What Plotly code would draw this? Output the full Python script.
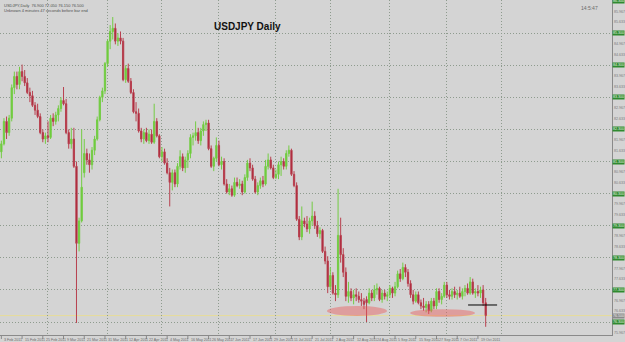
import plotly.graph_objects as go
import pandas as pd

# ---------------- data (USDJPY daily) ----------------
dates = pd.bdate_range("2011-02-01", "2011-10-24")

opens = [82.05,81.85,81.60,81.85,82.55,82.20,82.65,83.60,83.95,83.70,
         84.10,83.95,83.75,83.45,83.35,83.05,82.90,82.70,82.20,82.00,
         82.10,82.05,82.65,82.55,82.75,82.95,83.20,83.10,82.20,81.85,
         82.00,81.15,78.75,79.45,80.95,81.55,81.35,81.20,81.65,82.00,
         82.60,83.30,83.50,84.35,85.05,85.35,85.45,85.05,85.15,85.05,
         83.85,84.20,83.80,83.45,82.85,82.80,82.25,82.00,82.20,81.95,
         82.15,81.90,82.55,82.10,81.45,81.60,81.25,80.95,80.65,80.95,
         80.60,81.15,81.45,81.10,81.35,81.55,82.05,82.10,82.20,81.95,
         82.25,82.45,82.50,81.70,81.15,81.40,81.80,81.20,81.30,80.60,
         80.35,80.45,80.25,80.65,80.55,80.60,80.35,80.80,81.25,81.10,
         80.75,80.35,80.55,80.70,80.60,81.15,81.35,81.10,80.80,80.90,
         81.20,81.30,81.15,81.55,81.65,80.90,80.55,79.50,78.95,79.45,
         79.35,79.20,79.45,79.60,79.30,79.05,79.15,78.50,78.20,77.40,
         77.75,77.20,77.15,79.00,78.40,77.85,77.10,77.25,77.05,77.15,
         77.10,77.00,76.95,77.00,76.90,77.20,77.05,77.30,77.35,77.00,
         77.20,77.10,77.15,77.35,77.20,77.40,77.80,77.65,78.00,77.85,
         77.50,77.15,76.95,77.15,76.90,76.80,76.75,76.85,76.65,76.95,
         76.80,77.25,77.00,77.10,77.45,77.15,77.10,77.25,77.15,77.20,
         77.10,77.25,77.35,77.20,77.55,77.20,77.25,77.20,77.30,76.90]
highs = [82.25,82.05,81.95,82.65,82.70,82.75,83.70,84.10,84.10,84.25,
         84.32,84.15,83.90,83.60,83.50,83.15,83.10,82.80,82.30,82.20,
         82.55,82.75,82.80,82.85,83.05,83.30,83.62,83.25,82.30,82.35,
         82.35,81.30,79.55,82.30,82.00,81.70,81.55,81.75,82.10,82.70,
         83.35,83.60,84.40,85.10,85.55,85.80,85.60,85.30,85.35,85.15,
         84.30,84.35,83.90,83.55,83.15,82.95,82.35,82.30,82.35,82.30,
         82.30,83.10,82.65,82.15,81.75,81.70,81.40,81.10,81.05,81.05,
         81.25,81.65,81.55,81.45,81.65,82.15,82.20,82.55,82.35,82.35,
         82.55,82.60,82.60,81.80,81.45,82.05,81.95,81.45,81.40,80.75,
         80.60,80.55,80.80,80.80,80.75,80.70,80.90,81.35,81.40,81.20,
         80.85,80.65,80.80,80.85,81.35,81.55,81.45,81.20,81.05,81.30,
         81.45,81.40,81.65,81.80,81.70,81.00,80.65,79.60,79.90,79.55,
         79.60,79.55,80.05,79.75,79.45,79.25,79.20,78.65,78.35,78.00,
         77.85,77.45,80.45,79.55,78.60,78.00,77.55,77.35,77.30,77.35,
         77.25,77.20,77.05,77.10,77.35,77.30,77.45,77.50,77.40,77.30,
         77.30,77.25,77.45,77.40,77.55,77.90,77.95,78.15,78.10,77.95,
         77.60,77.30,77.25,77.25,77.00,77.05,76.95,76.95,77.05,77.05,
         77.35,77.35,77.20,77.55,77.55,77.30,77.35,77.40,77.30,77.40,
         77.35,77.45,77.50,77.70,77.65,77.35,77.45,77.40,77.45,77.05]
lows =  [81.75,81.55,81.40,81.80,82.00,82.10,82.55,83.40,83.55,83.55,
         83.80,83.65,83.40,83.15,83.00,82.75,82.65,82.15,81.90,81.85,
         81.90,82.00,82.40,82.45,82.55,82.85,83.05,82.15,81.70,81.70,
         81.10,76.27,78.50,79.40,80.80,81.20,80.95,81.05,81.50,81.95,
         82.55,83.15,83.40,84.25,84.80,85.10,84.95,84.90,84.95,83.80,
         83.75,83.75,83.40,82.80,82.55,82.20,81.90,81.85,81.90,81.85,
         81.85,81.85,82.05,81.40,81.30,81.20,80.90,79.90,80.40,80.50,
         80.50,81.05,81.00,80.95,81.10,81.40,81.80,81.95,81.85,81.80,
         82.10,82.25,81.65,81.10,81.00,81.30,81.15,81.05,80.55,80.30,
         80.25,80.20,80.20,80.50,80.45,80.25,80.30,80.70,81.00,80.70,
         80.30,80.25,80.45,80.50,80.55,81.05,81.05,80.75,80.75,80.75,
         80.85,81.05,81.05,81.45,80.85,80.50,79.45,78.85,78.85,79.25,
         79.10,79.05,79.30,79.20,78.95,78.90,78.45,78.10,77.20,77.30,
         77.15,76.95,77.05,78.15,77.70,76.95,76.90,76.95,76.85,76.95,
         76.90,76.80,76.70,76.30,76.85,76.95,76.95,77.15,76.95,76.90,
         77.00,76.95,77.05,77.05,77.10,77.35,77.55,77.60,77.70,77.40,
         77.05,76.85,76.90,76.85,76.70,76.65,76.60,76.55,76.60,76.70,
         76.70,76.90,76.85,77.05,77.05,77.00,77.00,77.05,77.00,77.05,
         77.00,77.10,77.15,77.15,77.15,77.05,77.10,77.05,76.80,76.15]
closes = [81.85,81.60,81.85,82.55,82.20,82.65,83.60,83.95,83.70,84.10,
          83.95,83.75,83.45,83.35,83.05,82.90,82.70,82.20,82.00,82.10,
          82.05,82.65,82.55,82.75,82.95,83.20,83.10,82.20,81.85,82.00,
          81.15,78.75,79.45,80.50,81.55,81.35,81.20,81.65,82.00,82.60,
          83.30,83.50,84.35,85.05,85.35,85.45,85.05,85.15,85.05,83.85,
          84.20,83.80,83.45,82.85,82.80,82.25,82.00,82.20,81.95,82.15,
          81.90,82.55,82.10,81.45,81.60,81.25,80.95,80.65,80.95,80.60,
          81.15,81.45,81.10,81.35,81.55,82.05,82.10,82.20,81.95,82.25,
          82.45,82.50,81.70,81.15,81.40,81.80,81.20,81.30,80.60,80.35,
          80.45,80.25,80.65,80.55,80.60,80.35,80.80,81.25,81.10,80.75,
          80.35,80.55,80.70,80.60,81.15,81.35,81.10,80.80,80.90,81.20,
          81.30,81.15,81.55,81.65,80.90,80.55,79.50,78.95,79.45,79.35,
          79.20,79.45,79.60,79.30,79.05,79.15,78.50,78.20,77.40,77.75,
          77.20,77.15,79.00,78.40,77.85,77.10,77.25,77.05,77.15,77.10,
          77.00,76.95,76.85,76.90,77.20,77.05,77.30,77.35,77.00,77.20,
          77.10,77.15,77.35,77.20,77.40,77.80,77.65,78.00,77.85,77.50,
          77.15,76.95,77.15,76.90,76.80,76.75,76.85,76.65,76.95,76.80,
          77.25,77.00,77.10,77.45,77.15,77.10,77.25,77.15,77.20,77.10,
          77.25,77.35,77.20,77.55,77.20,77.25,77.20,77.30,76.90,76.50]

# price-axis grid levels and minor labels
grid_levels = [76.30 + k for k in range(11)]
minor_levels = [76.30 + k / 3 for k in range(-1, 31) if k % 3 != 0]
bid_price = 76.50
support_level = 76.83
zone1 = (127.7, 150.9, 76.49, 76.80)
zone2 = (159.8, 184.9, 76.46, 76.70)

# ---------------- figure ----------------
idx = list(range(len(dates)))
BG = "#d4d4d4"
GRID = "#8e9b8e"
DOT = "1px,2px"

fig = go.Figure()
fig.add_trace(go.Candlestick(
    x=idx, open=opens, high=highs, low=lows, close=closes,
    increasing=dict(line=dict(color="#74cc44", width=1), fillcolor="#66cc33"),
    decreasing=dict(line=dict(color="#b8404f", width=1), fillcolor="#a3122c"),
    whiskerwidth=0, showlegend=False, hoverinfo="skip"))

# month separators (first trading day of each month), through November
ext = pd.bdate_range("2011-02-01", "2011-11-30")
month_idx = [i for i in range(1, len(ext)) if ext[i].month != ext[i - 1].month]

x0 = 1.47
x1 = x0 + 612 / 2.59
y0 = 76.30 - 13 / 32.1
y1 = 76.30 + 322 / 32.1

fig.update_layout(
    width=625, height=342,
    margin=dict(l=0, r=13, t=0, b=7),
    paper_bgcolor=BG, plot_bgcolor=BG,
    showlegend=False,
    xaxis=dict(range=[x0, x1], rangeslider=dict(visible=False),
               tickvals=month_idx, showticklabels=False, ticks="",
               showgrid=True, gridcolor=GRID, griddash=DOT, gridwidth=1,
               zeroline=False, showline=True, linecolor="#8a8a8a", linewidth=1),
    yaxis=dict(range=[y0, y1], side="right", tickvals=grid_levels,
               showticklabels=False, ticks="",
               showgrid=True, gridcolor=GRID, griddash=DOT, gridwidth=1,
               zeroline=False, showline=True, linecolor="#8a8a8a", linewidth=1),
)

# bid line (yellow)
fig.add_shape(type="line", xref="paper", x0=0, x1=1, yref="y", y0=bid_price, y1=bid_price,
              line=dict(color="#e6dc9a", width=1), layer="below")

# highlight zones
for (a, b, lo, hi) in (zone1, zone2):
    fig.add_shape(type="circle", xref="x", yref="y", x0=a, x1=b, y0=lo, y1=hi,
                  fillcolor="rgba(235,90,90,0.45)", line=dict(width=0), layer="above")

# support line
fig.add_shape(type="line", xref="x", yref="y", x0=182.2, x1=193.4,
              y0=support_level, y1=support_level, line=dict(color="black", width=1))

# right price labels
LBL = dict(family="Liberation Sans", size=3.6)
for v in grid_levels:
    fig.add_annotation(xref="paper", x=1.0, yref="y", y=v, text=f"{v:.3f}",
                       xanchor="left", yanchor="middle", showarrow=False,
                       font=dict(**LBL, color="#e8f5e8"),
                       bgcolor="#2f8a2f", borderpad=0, xshift=0)
for v in minor_levels:
    if y0 < v < y1:
        fig.add_annotation(xref="paper", x=1.0, yref="y", y=v, text=f"{v:.3f}",
                           xanchor="left", yanchor="middle", showarrow=False,
                           font=dict(**LBL, color="#7a7a7a"), xshift=0)
fig.add_annotation(xref="paper", x=1.0, yref="y", y=bid_price, text=f"{bid_price:.3f}",
                   xanchor="left", yanchor="middle", showarrow=False,
                   font=dict(**LBL, color="#f0f0f0"),
                   bgcolor="#8a8a8a", borderpad=0, xshift=0)

# date labels every 8 bars
for i in range(2, len(dates), 8):
    d = dates[i]
    fig.add_annotation(xref="x", x=i, yref="paper", y=0, text=f"{d.day} {d.strftime('%b %Y')}",
                       xanchor="left", yanchor="top", showarrow=False, xshift=1, yshift=-1,
                       font=dict(**LBL, color="#6a6a6a"))
    fig.add_shape(type="line", xref="x", x0=i, x1=i, yref="paper", y0=0, y1=-0.012,
                  line=dict(color="#8a8a8a", width=1))

# texts
fig.add_annotation(xref="paper", yref="paper", x=0.405, y=0.92, text="<b>USDJPY Daily</b>",
                   showarrow=False, xanchor="center", yanchor="middle",
                   font=dict(size=10, color="#111111", family="Liberation Sans"))
fig.add_annotation(xref="paper", yref="paper", x=0.003, y=0.998,
                   text=f"USDJPY,Daily  {opens[-1]:.3f} {highs[-1]:.3f} {lows[-1]:.3f} {closes[-1]:.3f}<br>Unknown 4 minutes 47 seconds before bar end",
                   showarrow=False, xanchor="left", yanchor="top", align="left",
                   font=dict(size=4, color="#505050", family="Liberation Sans"))
fig.add_annotation(xref="paper", yref="paper", x=0.98, y=0.975, text="14:5:47",
                   showarrow=False, xanchor="right", yanchor="middle",
                   font=dict(size=5, color="#6a6a6a", family="Liberation Sans"))

fig.write_html("out.html")
